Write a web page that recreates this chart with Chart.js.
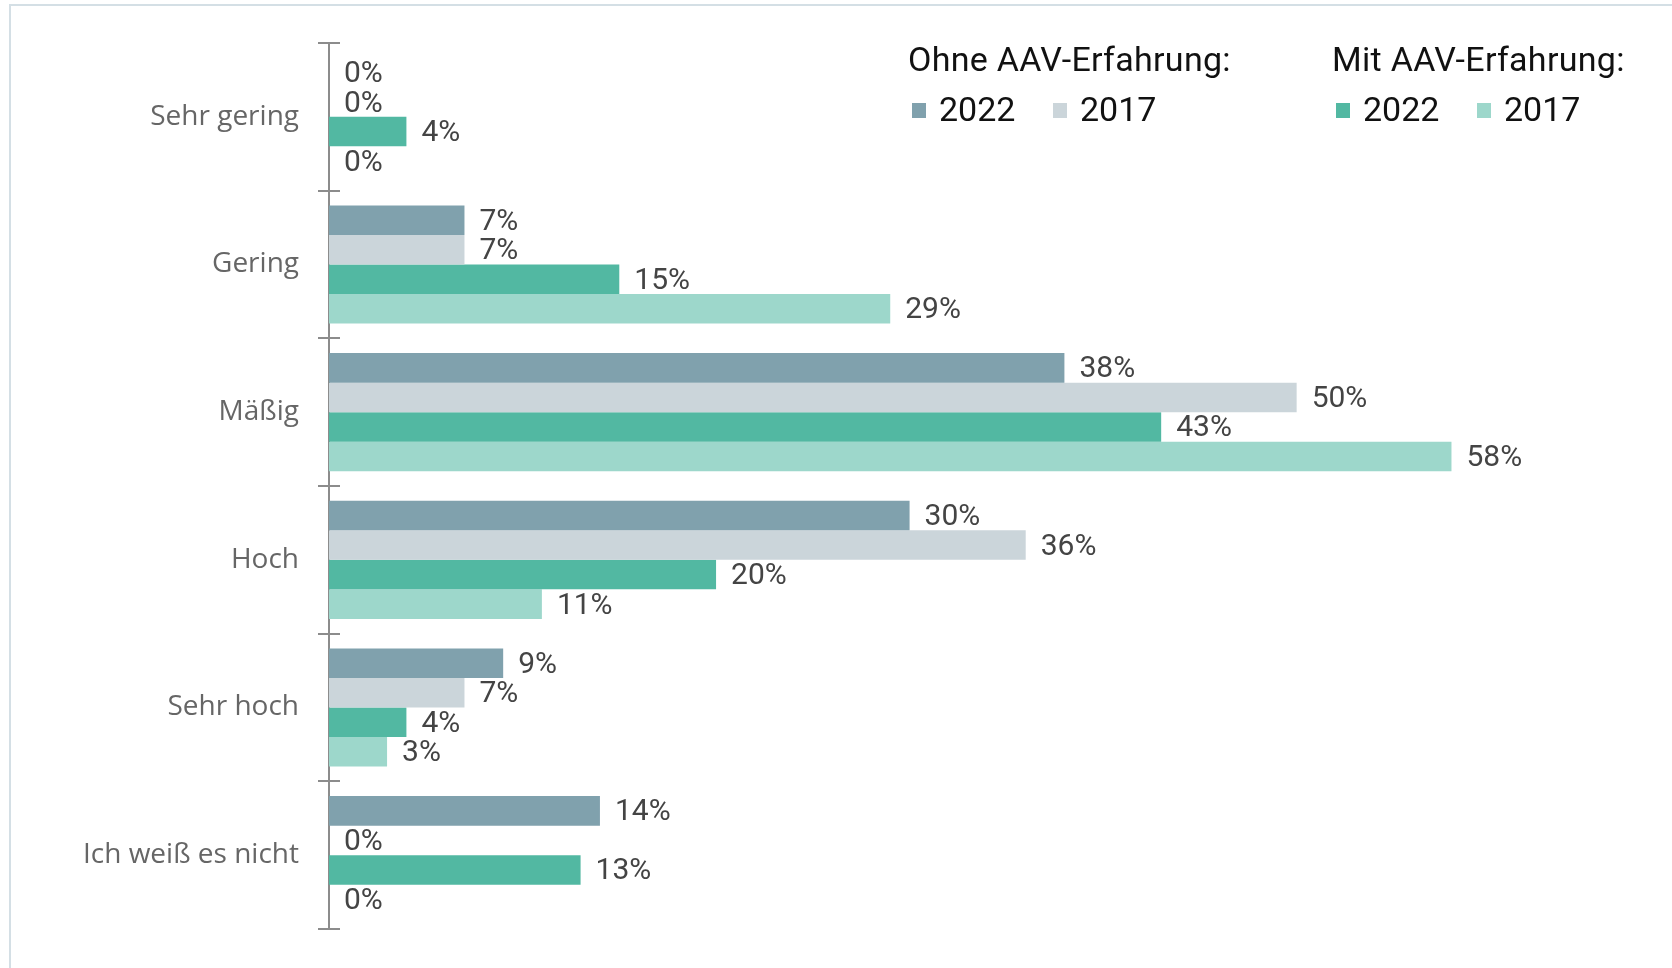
<!DOCTYPE html>
<html>
<head>
<meta charset="utf-8">
<script src="https://cdn.jsdelivr.net/npm/chart.js@4"></script>
<style>
    body { margin: 0; background: #fff; }
    #wrap { position: relative; width: 1672px; height: 968px; overflow: hidden; }
    #frame { position: absolute; left: 9px; top: 4px; right: 0; bottom: 0;
             border-top: 2px solid #d4dfe5; border-left: 2px solid #d4dfe5; }
    canvas { position: absolute; left: 0; top: 0; }
    .lg { position: absolute; font-family: Roboto, sans-serif; font-size: 34px;
          line-height: 34px; color: #111; white-space: nowrap; }
    .sw { position: absolute; width: 14px; height: 15px; }
</style>
</head>
<body>
<div id="wrap">
    <div id="frame"></div>
    <canvas id="chart" width="1672" height="968"></canvas>
    <div id="legend"></div>
</div>
<script>
// Categories and values (percent)
const categories = ["Sehr gering", "Gering", "Mäßig", "Hoch", "Sehr hoch", "Ich weiß es nicht"];
const ohne2022 = [0, 7, 38, 30, 9, 14];
const ohne2017 = [0, 7, 50, 36, 7, 0];
const mit2022 = [4, 15, 43, 20, 4, 13];
const mit2017 = [0, 29, 58, 11, 3, 0];

const colors = ["#80a1ad", "#cbd5da", "#52b8a2", "#9dd7cb"];

// Legend (two groups, each with a title and two years)
const legendGroups = [
    { title: "Ohne AAV-Erfahrung:", x: 908, items: [["2022", colors[0]], ["2017", colors[1]]] },
    { title: "Mit AAV-Erfahrung:", x: 1332, items: [["2022", colors[2]], ["2017", colors[3]]] },
];

function buildLegend() {
    const box = document.getElementById("legend");
    legendGroups.forEach((g) => {
        const t = document.createElement("div");
        t.className = "lg";
        t.style.left = g.x + "px";
        t.style.top = "42px";
        t.style.letterSpacing = "0.3px";
        t.textContent = g.title;
        box.appendChild(t);
        g.items.forEach((it, i) => {
            const sx = g.x + 4 + i * 141;
            const sw = document.createElement("div");
            sw.className = "sw";
            sw.style.left = sx + "px";
            sw.style.top = "103px";
            sw.style.background = it[1];
            box.appendChild(sw);
            const lt = document.createElement("div");
            lt.className = "lg";
            lt.style.left = (sx + 27) + "px";
            lt.style.top = "92px";
            lt.textContent = it[0];
            box.appendChild(lt);
        });
    });
}

// Value labels at the end of each bar
const valueLabels = {
    id: "valueLabels",
    afterDatasetsDraw(chart) {
        const ctx = chart.ctx;
        ctx.save();
        ctx.font = "30px Roboto";
        ctx.fillStyle = "#444";
        ctx.textBaseline = "middle";
        ctx.textAlign = "left";
        chart.data.datasets.forEach((ds, i) => {
            chart.getDatasetMeta(i).data.forEach((bar, j) => {
                ctx.fillText(ds.data[j] + "%", bar.x + 15, bar.y + 2);
            });
        });
        ctx.restore();
    },
};

// Axis tick marks crossing the y axis at category boundaries
const crossTicks = {
    id: "crossTicks",
    afterDraw(chart) {
        const y = chart.scales.y;
        const ctx = chart.ctx;
        const x0 = chart.chartArea.left;
        ctx.save();
        ctx.strokeStyle = "#8c8c8c";
        ctx.lineWidth = 2;
        for (let i = 0; i <= categories.length; i++) {
            const py = Math.round(y.getPixelForValue(i - 0.5));
            ctx.beginPath();
            ctx.moveTo(x0 - 11, py);
            ctx.lineTo(x0 + 11, py);
            ctx.stroke();
        }
        ctx.restore();
    },
};

const ctx = document.getElementById("chart").getContext("2d");
new Chart(ctx, {
    type: "bar",
    data: {
        labels: categories,
        datasets: [
            { label: "Ohne 2022", data: ohne2022, backgroundColor: colors[0] },
            { label: "Ohne 2017", data: ohne2017, backgroundColor: colors[1] },
            { label: "Mit 2022", data: mit2022, backgroundColor: colors[2] },
            { label: "Mit 2017", data: mit2017, backgroundColor: colors[3] },
        ],
    },
    options: {
        indexAxis: "y",
        responsive: false,
        animation: false,
        categoryPercentage: 0.8,
        barPercentage: 1.0,
        layout: { padding: { top: 43, bottom: 39, right: 27, left: 0 } },
        plugins: { legend: { display: false }, tooltip: { enabled: false } },
        scales: {
            x: { display: false, min: 0, max: 68 },
            y: {
                afterFit: (s) => { s.width = 329; },
                grid: { display: false, drawTicks: true, tickLength: 30 },
                border: { display: true, color: "#8c8c8c", width: 2 },
                ticks: {
                    padding: 0,
                    color: "#666",
                    font: { family: "'Open Sans'", size: 28 },
                },
            },
        },
    },
    plugins: [valueLabels, crossTicks],
});

buildLegend();
</script>
</body>
</html>
